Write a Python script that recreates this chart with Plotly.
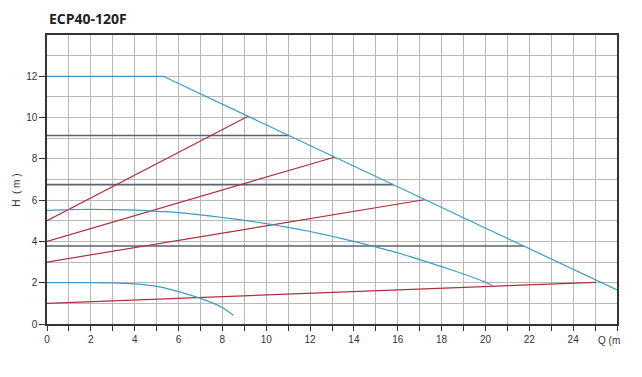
import plotly.graph_objects as go

# Pump max curve (blue)
max_q = [0, 5.3, 26]
max_h = [12, 12, 1.65]

# Middle pump curve (blue)
mid_q = [0, 1, 2, 3, 4, 5, 6, 7, 8, 9, 10, 11, 12, 13, 14, 15, 16, 17, 18, 19, 20, 20.35]
mid_h = [5.5, 5.54, 5.55, 5.54, 5.52, 5.46, 5.4, 5.29, 5.16, 5.02, 4.86, 4.68, 4.48, 4.25, 4.0, 3.73, 3.45, 3.12, 2.78, 2.42, 2.02, 1.84]

# Low pump curve (blue)
low_q = [0, 1, 2, 3, 4, 5, 6, 7, 8, 8.5]
low_h = [2.0, 2.0, 2.0, 1.99, 1.94, 1.82, 1.57, 1.24, 0.8, 0.42]

# Constant-pressure lines (dark)
const_h = [9.13, 6.75, 3.78]
const_q_end = [11.05, 15.8, 21.75]

# System curves (red)
sys_h0 = [5, 4, 3, 1]
sys_q1 = [9.15, 13.1, 17.2, 25.05]
sys_h1 = [10.05, 8.08, 6.02, 2.02]

# Tick labels
x_ticks = [0, 2, 4, 6, 8, 10, 12, 14, 16, 18, 20, 22, 24]
y_ticks = [0, 2, 4, 6, 8, 10, 12]

BLUE = "#3c9dc4"
RED = "#b0303e"
DARK = "#5a6274"

fig = go.Figure()
for h, qe in zip(const_h, const_q_end):
    fig.add_trace(go.Scatter(x=[0, qe], y=[h, h], mode="lines",
                             line=dict(color=DARK, width=1.6), showlegend=False, hoverinfo="skip"))
for h0, q1, h1 in zip(sys_h0, sys_q1, sys_h1):
    fig.add_trace(go.Scatter(x=[0, q1], y=[h0, h1], mode="lines",
                             line=dict(color=RED, width=1.2), showlegend=False))
fig.add_trace(go.Scatter(x=max_q, y=max_h, mode="lines", line=dict(color=BLUE, width=1.2), showlegend=False))
for qs, hs in [(mid_q, mid_h), (low_q, low_h)]:
    fig.add_trace(go.Scatter(x=qs, y=hs, mode="lines", line=dict(color=BLUE, width=1.2, shape="spline", smoothing=0.5),
                             showlegend=False))

axis_font = dict(family="Liberation Sans, Arial, sans-serif", size=10, color="#333333")
fig.update_layout(
    width=642, height=377,
    margin=dict(l=39, r=33, t=27, b=61),
    paper_bgcolor="white", plot_bgcolor="white",
    font=axis_font,
    xaxis=dict(range=[0, 26], tickmode="array", tickvals=x_ticks, showgrid=True, gridcolor="#b8b8b8", gridwidth=1,
               ticks="outside", ticklen=5, tickcolor="#333333",
               minor=dict(dtick=1, tick0=0, showgrid=True, gridcolor="#b8b8b8", ticks="outside", ticklen=5, tickcolor="#333333"),
               showline=True, linecolor="#333333", linewidth=1.5, mirror=True, zeroline=False,
               tickfont=axis_font),
    yaxis=dict(range=[0, 14], tickmode="array", tickvals=y_ticks, showgrid=True, gridcolor="#b8b8b8", gridwidth=1,
               ticks="outside", ticklen=6, tickcolor="#333333",
               minor=dict(dtick=1, tick0=0, showgrid=True, gridcolor="#b8b8b8"),
               showline=True, linecolor="#333333", linewidth=1.5, mirror=True, zeroline=False,
               tickfont=axis_font),
    annotations=[
        dict(text="<b>ECP40-120F</b>", xref="paper", yref="paper", x=0, y=1, xanchor="left", yanchor="bottom",
             yshift=5, showarrow=False, font=dict(family="Open Sans, sans-serif", size=14, color="#222222")),
        dict(text="H  ( m )", xref="paper", yref="paper", x=-0.066, y=0.464, xanchor="left", textangle=-90,
             showarrow=False, font=axis_font),
        dict(text="Q (m", xref="paper", yref="paper", x=0.963, y=0, xanchor="left", yanchor="top",
             yshift=-9, showarrow=False, font=axis_font),
    ],
)

fig.write_html("out.html")
